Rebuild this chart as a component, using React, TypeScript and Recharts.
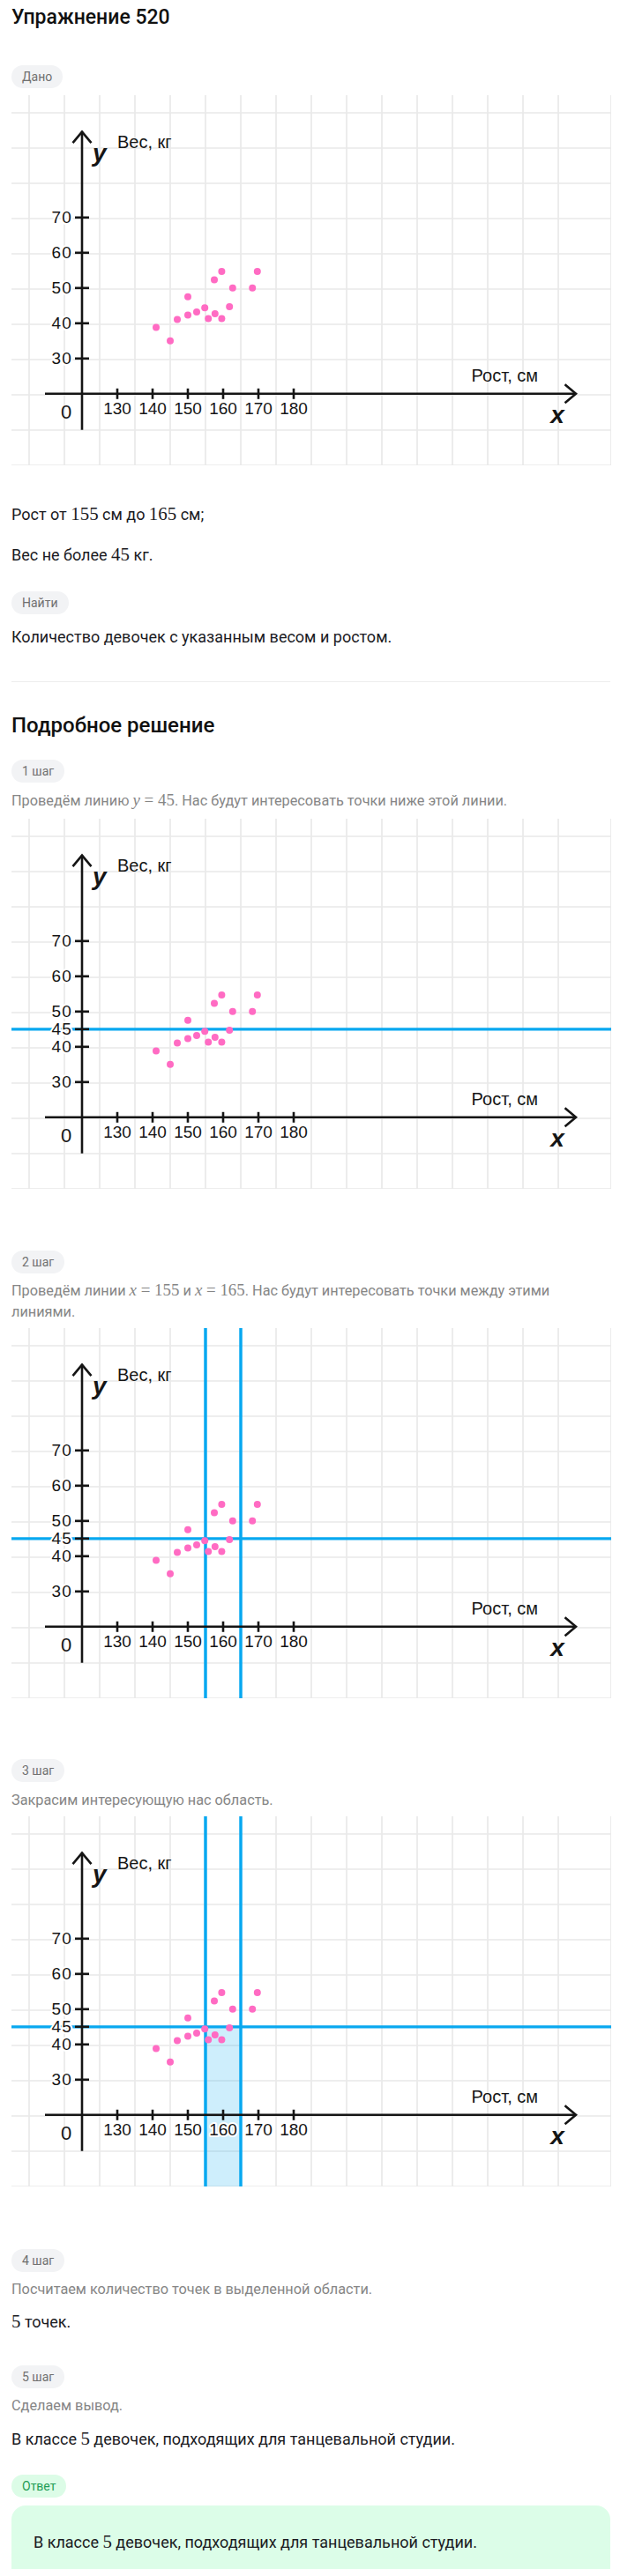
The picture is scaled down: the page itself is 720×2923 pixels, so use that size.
import React from 'react';
import {
  ScatterChart,
  Scatter,
  XAxis,
  YAxis,
  CartesianGrid,
  ReferenceLine,
  ReferenceDot,
  ReferenceArea,
} from 'recharts';

// ---------- data ----------
const heights = [141, 145, 147, 150, 150, 152.5, 154.8, 155.8, 157.5, 157.7, 159.6, 159.6, 161.8, 162.7, 168.3, 169.7];
const weights = [38.8, 35, 41.1, 47.5, 42.3, 43.2, 44.4, 41.3, 52.3, 42.7, 54.7, 41.3, 44.7, 50, 50, 54.7];
const xTicks = [130, 140, 150, 160, 170, 180];
const yTicksGiven = [30, 40, 50, 60, 70];
const yTicksSteps = [30, 40, 45, 50, 60, 70];
const weightLimit = 45;
const heightRange = [155, 165];
const originH = 120;
const originW = 20;

// ---------- layout constants ----------
const CHART_W = 680;
const CHART_H = 420;
const X_DOMAIN: [number, number] = [100, 270];
const Y_DOMAIN: [number, number] = [-0.3, 104.7];
const X_AXIS_EXTENT = [109.5, 260];
const Y_AXIS_EXTENT = [9.75, 94.3];

const gridX = Array.from({ length: 35 }, (_, k) => X_DOMAIN[0] + 5 * k);
const gridY = Array.from({ length: 22 }, (_, k) => Y_DOMAIN[1] - 5 * k);

const points = heights.map((h, i) => ({ h, w: weights[i] }));

const INK = '#151515';
const BLUE = '#08a8f0';
const PINK = '#ff6bc3';
const LABEL_FONT = '"Liberation Sans", Arial, sans-serif';
const BODY_FONT = 'Roboto, "Noto Sans", sans-serif';

const ArrowLine = (props: any) => {
  const { x1, y1, x2, y2 } = props;
  const dx = x2 - x1;
  const dy = y2 - y1;
  const len = Math.hypot(dx, dy) || 1;
  const ux = dx / len;
  const uy = dy / len;
  const back = 12.5;
  const half = 10.5;
  const bx = x2 - ux * back;
  const by = y2 - uy * back;
  const px = -uy;
  const py = ux;
  return (
    <g>
      <line x1={x1} y1={y1} x2={x2} y2={y2} stroke={INK} strokeWidth={2.6} />
      <polyline
        points={`${bx + px * half},${by + py * half} ${x2},${y2} ${bx - px * half},${by - py * half}`}
        fill="none"
        stroke={INK}
        strokeWidth={2.6}
      />
    </g>
  );
};

const haloText = {
  paintOrder: 'stroke' as const,
  stroke: '#ffffff',
  strokeWidth: 4,
  strokeLinejoin: 'round' as const,
};

const makeYTick = (label: string) => (p: any) => (
  <g>
    <line x1={p.cx - 8} y1={p.cy} x2={p.cx + 8} y2={p.cy} stroke={INK} strokeWidth={2.6} />
    <text
      x={p.cx - 11}
      y={p.cy}
      textAnchor="end"
      dominantBaseline="central"
      fontFamily={LABEL_FONT}
      fontSize={19}
      letterSpacing={1.2}
      fill={INK}
      style={haloText}
    >
      {label}
    </text>
  </g>
);

const makeXTick = (label: string) => (p: any) => (
  <g>
    <line x1={p.cx} y1={p.cy - 6} x2={p.cx} y2={p.cy + 6} stroke={INK} strokeWidth={2.6} />
    <text
      x={p.cx}
      y={p.cy + 17}
      textAnchor="middle"
      dominantBaseline="central"
      fontFamily={LABEL_FONT}
      fontSize={19}
      fill={INK}
      style={haloText}
    >
      {label}
    </text>
  </g>
);

const OriginLabel = (p: any) => (
  <text x={p.cx - 18} y={p.cy + 21} textAnchor="middle" dominantBaseline="central" fontFamily={LABEL_FONT} fontSize={22} fill={INK}>
    0
  </text>
);

const YTitle = (p: any) => (
  <g>
    <text x={p.cx + 40} y={p.cy + 18} fontFamily={LABEL_FONT} fontSize={20} fill={INK}>
      Вес, кг
    </text>
    <text x={p.cx + 12} y={p.cy + 33} fontFamily={LABEL_FONT} fontSize={28} fontStyle="italic" fontWeight={700} fill={INK}>
      y
    </text>
  </g>
);

const XTitle = (p: any) => (
  <g>
    <text x={p.cx - 43} y={p.cy - 13.5} textAnchor="end" fontFamily={LABEL_FONT} fontSize={20} fill={INK}>
      Рост, см
    </text>
    <text x={p.cx - 21} y={p.cy + 33} textAnchor="middle" fontFamily={LABEL_FONT} fontSize={28} fontStyle="italic" fontWeight={700} fill={INK}>
      x
    </text>
  </g>
);

const PinkDot = (p: any) => <circle cx={p.cx} cy={p.cy} r={4} fill={PINK} />;

function Graph({ yTicks, hLine, vLines, shade }: { yTicks: number[]; hLine?: boolean; vLines?: boolean; shade?: boolean }) {
  return (
    <ScatterChart width={CHART_W} height={CHART_H} margin={{ top: 0, right: 0, bottom: 0, left: 0 }}>
      <XAxis type="number" dataKey="h" domain={X_DOMAIN} hide allowDataOverflow />
      <YAxis type="number" dataKey="w" domain={Y_DOMAIN} hide allowDataOverflow />
      <CartesianGrid verticalValues={gridX} horizontalValues={gridY} stroke="#e9e9e9" strokeWidth={1.7} />
      {shade && (
        <ReferenceArea
          x1={heightRange[0]}
          x2={heightRange[1]}
          y1={Y_DOMAIN[0]}
          y2={weightLimit}
          fill={BLUE}
          fillOpacity={0.2}
          stroke="none"
          ifOverflow="visible"
        />
      )}
      {hLine && <ReferenceLine y={weightLimit} stroke={BLUE} strokeWidth={3.2} />}
      {vLines && heightRange.map((v) => <ReferenceLine key={'v' + v} x={v} stroke={BLUE} strokeWidth={3.5} />)}
      <ReferenceLine
        segment={[{ x: originH, y: Y_AXIS_EXTENT[0] }, { x: originH, y: Y_AXIS_EXTENT[1] }]}
        shape={ArrowLine}
        ifOverflow="visible"
      />
      <ReferenceLine
        segment={[{ x: X_AXIS_EXTENT[0], y: originW }, { x: X_AXIS_EXTENT[1], y: originW }]}
        shape={ArrowLine}
        ifOverflow="visible"
      />
      {yTicks.map((t) => (
        <ReferenceDot key={'y' + t} x={originH} y={t} r={0} shape={makeYTick(String(t))} ifOverflow="visible" />
      ))}
      {xTicks.map((t) => (
        <ReferenceDot key={'x' + t} x={t} y={originW} r={0} shape={makeXTick(String(t))} ifOverflow="visible" />
      ))}
      <ReferenceDot x={originH} y={originW} r={0} shape={OriginLabel} ifOverflow="visible" />
      <ReferenceDot x={originH} y={Y_AXIS_EXTENT[1]} r={0} shape={YTitle} ifOverflow="visible" />
      <ReferenceDot x={X_AXIS_EXTENT[1]} y={originW} r={0} shape={XTitle} ifOverflow="visible" />
      <Scatter data={points} dataKey="w" isAnimationActive={false} shape={PinkDot} />
    </ScatterChart>
  );
}

// ---------- page helpers (container starts at page y = 0, x = 8) ----------
const LH = 24;
const Text = ({ cy, children, style }: { cy: number; children: React.ReactNode; style?: React.CSSProperties }) => (
  <div
    style={{
      position: 'absolute',
      left: 5,
      top: cy - LH / 2,
      lineHeight: LH + 'px',
      fontFamily: BODY_FONT,
      fontSize: 18,
      color: '#1b1b1f',
      whiteSpace: 'nowrap',
      ...style,
    }}
  >
    {children}
  </div>
);

const Badge = ({ top, text, bg = '#f2f3f5', color = '#707070' }: { top: number; text: string; bg?: string; color?: string }) => (
  <div
    style={{
      position: 'absolute',
      left: 5,
      top,
      height: 26,
      lineHeight: '26px',
      padding: '0 12px',
      borderRadius: 13,
      background: bg,
      color,
      fontFamily: BODY_FONT,
      fontSize: 14,
    }}
  >
    {text}
  </div>
);

const M = ({ children }: { children: React.ReactNode }) => (
  <span style={{ fontFamily: '"Liberation Serif", "Times New Roman", serif', fontSize: '1.16em' }}>{children}</span>
);
const V = ({ children }: { children: React.ReactNode }) => <i style={{ fontStyle: 'italic' }}>{children}</i>;

const ChartBox = ({ top, children }: { top: number; children: React.ReactNode }) => (
  <div style={{ position: 'absolute', left: 5, top, width: CHART_W, height: CHART_H }}>{children}</div>
);

const GRAY = '#868686';
const STEP_SIZE = 16.3;

export default function App() {
  return (
    <div
      style={{
        position: 'relative',
        width: 704,
        height: 2923,
        marginTop: -8,
        marginBottom: -8,
        overflow: 'hidden',
        background: '#fff',
      }}
    >
      <Text cy={20} style={{ fontSize: 23, fontWeight: 500, color: '#111', lineHeight: '30px', top: 5 }}>
        Упражнение 520
      </Text>
      <Badge top={74} text="Дано" />
      <ChartBox top={108}>
        <Graph yTicks={yTicksGiven} />
      </ChartBox>
      <Text cy={583}>
        Рост от <M>155</M> см до <M>165</M> см;
      </Text>
      <Text cy={629}>
        Вес не более <M>45</M> кг.
      </Text>
      <Badge top={671} text="Найти" />
      <Text cy={723}>Количество девочек с указанным весом и ростом.</Text>
      <div style={{ position: 'absolute', left: 5, top: 773, width: 679, height: 1, background: '#ededed' }} />
      <Text cy={823} style={{ fontSize: 24, fontWeight: 500, color: '#111', lineHeight: '30px', top: 808 }}>
        Подробное решение
      </Text>

      <Badge top={862} text="1 шаг" />
      <Text cy={908} style={{ color: GRAY, fontSize: STEP_SIZE }}>
        Проведём линию <M><V>y</V>&nbsp;=&nbsp;45</M>. Нас будут интересовать точки ниже этой линии.
      </Text>
      <ChartBox top={929}>
        <Graph yTicks={yTicksSteps} hLine />
      </ChartBox>

      <Badge top={1419} text="2 шаг" />
      <Text cy={1464} style={{ color: GRAY, fontSize: STEP_SIZE }}>
        Проведём линии <M><V>x</V>&nbsp;=&nbsp;155</M> и <M><V>x</V>&nbsp;=&nbsp;165</M>. Нас будут интересовать точки между этими
      </Text>
      <Text cy={1489} style={{ color: GRAY, fontSize: STEP_SIZE }}>
        линиями.
      </Text>
      <ChartBox top={1507}>
        <Graph yTicks={yTicksSteps} hLine vLines />
      </ChartBox>

      <Badge top={1996} text="3 шаг" />
      <Text cy={2043} style={{ color: GRAY, fontSize: STEP_SIZE }}>
        Закрасим интересующую нас область.
      </Text>
      <ChartBox top={2061}>
        <Graph yTicks={yTicksSteps} hLine vLines shade />
      </ChartBox>

      <Badge top={2552} text="4 шаг" />
      <Text cy={2598} style={{ color: GRAY, fontSize: STEP_SIZE }}>
        Посчитаем количество точек в выделенной области.
      </Text>
      <Text cy={2634}>
        <M>5</M> точек.
      </Text>

      <Badge top={2684} text="5 шаг" />
      <Text cy={2730} style={{ color: GRAY, fontSize: STEP_SIZE }}>
        Сделаем вывод.
      </Text>
      <Text cy={2767}>
        В классе <M>5</M> девочек, подходящих для танцевальной студии.
      </Text>

      <Badge top={2808} text="Ответ" bg="#dcfce7" color="#1f9d55" />
      <div
        style={{
          position: 'absolute',
          left: 5,
          top: 2843,
          width: 679,
          height: 140,
          borderRadius: 16,
          background: '#dcfde8',
        }}
      />
      <Text cy={2884} style={{ left: 30 }}>
        В классе <M>5</M> девочек, подходящих для танцевальной студии.
      </Text>
    </div>
  );
}
